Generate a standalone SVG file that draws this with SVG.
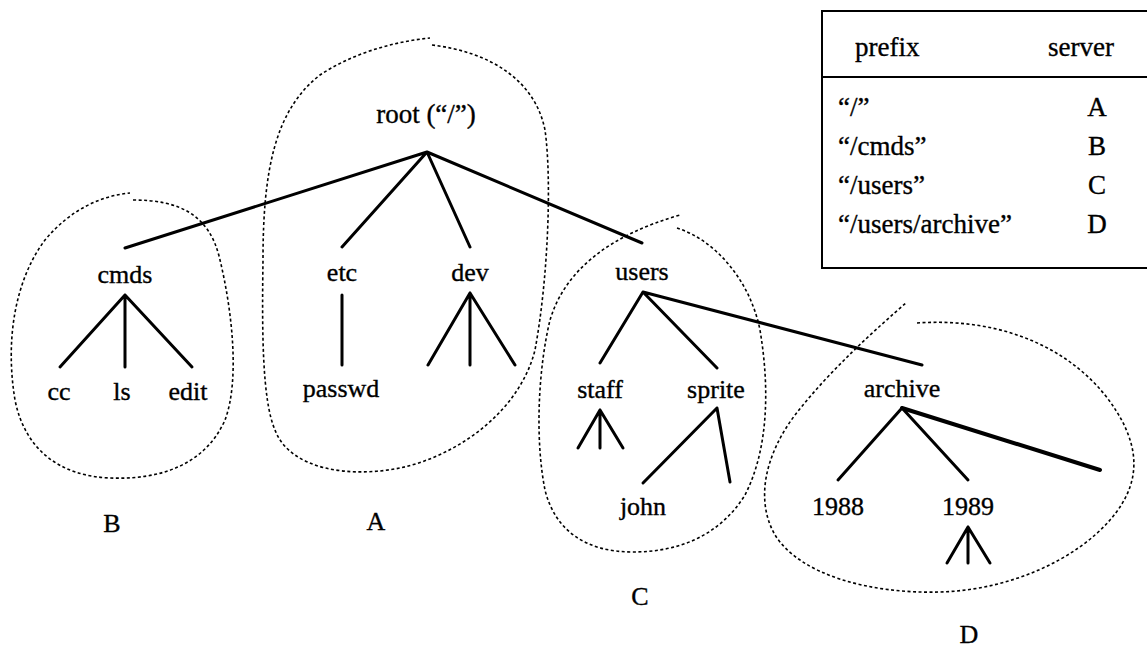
<svg xmlns="http://www.w3.org/2000/svg" width="1147" height="649" viewBox="0 0 1147 649">
<style>
text{font-family:"Liberation Serif","Times New Roman",serif;font-size:26px;fill:#000;stroke:#000;stroke-width:0.35}
.t{font-size:27px}
.c{text-anchor:middle}
.e{stroke:#000;stroke-width:3;fill:none;stroke-linecap:round}
.loop{stroke:#000;stroke-width:1.6;fill:none;stroke-dasharray:3 2.5}
.tb{stroke:#000;stroke-width:2;fill:none}
</style>
<rect width="1147" height="649" fill="#fff"/>
<g id="table">
<path class="tb" d="M1150,11 H822 V268 H1150 M822,77 H1150"/>
<text x="855" y="56" class="t">prefix</text>
<text x="1081" y="56" class="c t">server</text>
<text x="838" y="116" class="t">“/”</text><text x="1097" y="116" class="c t">A</text>
<text x="838" y="155" class="t">“/cmds”</text><text x="1097" y="155" class="c t">B</text>
<text x="838" y="194" class="t">“/users”</text><text x="1097" y="194" class="c t">C</text>
<text x="838" y="233" class="t">“/users/archive”</text><text x="1097" y="233" class="c t">D</text>
</g>
<g id="servers">
<path id="loopA" class="loop" d="M432,45 C490,52 535,80 545,130 C552,180 548,280 535,350 C520,410 460,455 400,468 C350,478 290,470 275,430 C262,400 262,330 263,260 C263,170 275,110 320,75 C350,55 390,42 430,38"/>
<path id="loopB" class="loop" d="M133,200 C180,200 210,215 220,260 C232,310 240,380 225,420 C205,465 160,480 110,478 C60,476 25,450 15,400 C5,340 15,280 45,240 C70,210 100,196 130,193"/>
<path id="loopC" class="loop" d="M677,228 C715,240 750,280 760,330 C770,390 768,450 745,495 C720,535 680,552 633,552 C585,552 555,530 545,490 C535,440 538,370 550,320 C565,270 610,235 680,215"/>
<path id="loopD" class="loop" d="M917,323 C990,318 1060,340 1105,395 C1140,440 1145,480 1110,520 C1075,560 1010,590 940,592 C870,594 800,575 775,535 C755,500 765,455 795,415 C830,370 875,330 907,302"/>
<text x="376" y="530" class="c">A</text>
<text x="112" y="532" class="c">B</text>
<text x="640" y="605" class="c">C</text>
<text x="969" y="643" class="c">D</text>
</g>
<g id="connectors">
<path class="e" d="M427,152 L125,248 M427,152 L342,247 M427,152 L470,247 M427,152 L642,243"/>
<path class="e" d="M125,295 L60,367 M125,295 L125,367 M125,295 L192,367"/>
<path class="e" d="M342,295 L342,365"/>
<path class="e" d="M470,293 L428,365 M470,293 L470,365 M470,293 L515,365"/>
<path class="e" d="M643,292 L600,363 M643,292 L717,368 M643,292 L922,365"/>
<path class="e" d="M600,410 L578,448 M600,410 L600,448 M600,410 L623,448"/>
<path class="e" d="M717,408 L643,483 M717,408 L730,482"/>
<path class="e" d="M902,408 L838,480 M902,408 L968,480"/>
<path class="e" style="stroke-width:4" d="M902,408 L1100,470"/>
<path class="e" d="M968,527 L947,563 M968,527 L968,563 M968,527 L990,563"/>
</g>
<g id="n-root"><text x="426" y="123" class="c" style="font-size:27px">root (“/”)</text></g>
<g id="n-cmds"><text x="125" y="283" class="c">cmds</text></g>
<g id="n-cc"><text x="59" y="400" class="c">cc</text></g>
<g id="n-ls"><text x="122" y="400" class="c">ls</text></g>
<g id="n-edit"><text x="188" y="400" class="c">edit</text></g>
<g id="n-etc"><text x="342" y="281" class="c">etc</text></g>
<g id="n-passwd"><text x="341" y="397" class="c">passwd</text></g>
<g id="n-dev"><text x="470" y="281" class="c">dev</text></g>
<g id="n-users"><text x="642" y="280" class="c">users</text></g>
<g id="n-staff"><text x="600" y="398" class="c">staff</text></g>
<g id="n-sprite"><text x="716" y="398" class="c">sprite</text></g>
<g id="n-john"><text x="643" y="515" class="c">john</text></g>
<g id="n-archive"><text x="902" y="397" class="c">archive</text></g>
<g id="n-1988"><text x="838" y="515" class="c">1988</text></g>
<g id="n-1989"><text x="968" y="515" class="c">1989</text></g>
</svg>
